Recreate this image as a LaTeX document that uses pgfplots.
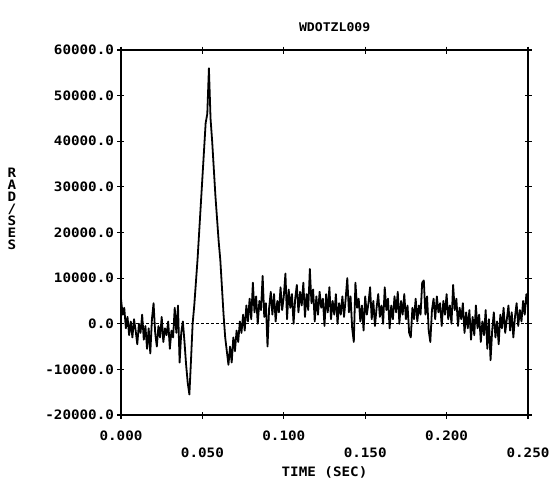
\documentclass[border=0pt]{standalone}
\usepackage{pgfplots}
\pgfplotsset{compat=1.18}
\usepackage{fontspec}
\setmainfont{DejaVu Sans Mono}[FakeStretch=1.1]
\begin{document}
\begin{tikzpicture}[font=\bfseries\fontsize{13}{15}\selectfont]
\begin{axis}[
  at={(0,0)}, anchor=south west,
  scale only axis, width=407bp, height=365bp,
  xmin=0, xmax=0.25, ymin=-20000, ymax=60000,
  scaled y ticks=false, scaled x ticks=false,
  xtick={0,0.1,0.2}, xticklabels={0.000,0.100,0.200},
  xticklabel style={yshift=-9bp},
  extra x ticks={0.05,0.15,0.25}, extra x tick labels={0.050,0.150,0.250},
  extra x tick style={grid=none, xticklabel style={yshift=-17bp}},
  ytick={-20000,-10000,...,60000},
  yticklabels={-20000.0,-10000.0,0.0,10000.0,20000.0,30000.0,40000.0,50000.0,60000.0},
  tick align=center, major tick length=7bp, minor tick num=0,
  tick style={black, line width=1.2bp},
  axis line style={line width=1.2bp},
  title={WDOTZL009},
  title style={font=\bfseries\fontsize{12}{14}\selectfont, at={(axis description cs:0.525,1.045)}, anchor=center},
  xlabel={TIME (SEC)},
  xlabel style={at={(axis description cs:0.5,-0.157)}, anchor=center},
  ylabel={\begin{tabular}{@{}c@{}}R\\[-3bp]A\\[-3bp]D\\[-3bp]/\\[-3bp]S\\[-3bp]E\\[-3bp]S\end{tabular}},
  ylabel style={rotate=-90, at={(axis description cs:-0.268,0.56)}, anchor=center},
]
\addplot[black, line width=0.9bp, dash pattern=on 3bp off 2bp] coordinates {(0,0) (0.25,0)};
\addplot[black, line width=1.8bp, line join=round] table {
x y
0.000 5500
0.001 2000
0.002 3500
0.003 -1000
0.004 1500
0.005 -2500
0.006 500
0.007 -3000
0.008 1000
0.009 -1500
0.010 -4500
0.011 0
0.012 -2000
0.013 2000
0.014 -3500
0.015 -500
0.016 -5500
0.017 -1000
0.018 -6500
0.019 1000
0.020 4500
0.021 -2000
0.022 -5000
0.023 -500
0.024 -3000
0.025 1500
0.026 -4000
0.027 -1000
0.028 -2500
0.029 500
0.030 -5500
0.031 -1500
0.032 -3000
0.033 3500
0.034 -2000
0.035 4000
0.036 -8500
0.037 -2000
0.038 500
0.039 -4000
0.040 -9000
0.041 -13000
0.042 -15500
0.043 -8000
0.044 0
0.045 4000
0.046 9000
0.047 14000
0.048 20000
0.049 26000
0.050 32000
0.051 38000
0.052 44000
0.053 46000
0.054 56000
0.055 45000
0.056 40000
0.057 34000
0.058 28000
0.059 23000
0.060 18000
0.061 14000
0.062 8000
0.063 2000
0.064 -3000
0.065 -6000
0.066 -9000
0.067 -5000
0.068 -8500
0.069 -3000
0.070 -6000
0.071 -1500
0.072 -4000
0.073 500
0.074 -2000
0.075 2000
0.076 -1500
0.077 4000
0.078 500
0.079 5500
0.080 1000
0.081 9000
0.082 2500
0.083 6000
0.084 0
0.085 5000
0.086 3000
0.087 10500
0.088 1500
0.089 4500
0.090 -5000
0.091 3500
0.092 7000
0.093 2000
0.094 6500
0.095 500
0.096 5000
0.097 2500
0.098 8000
0.099 3000
0.100 6000
0.101 11000
0.102 1000
0.103 7500
0.104 3500
0.105 6500
0.106 0
0.107 5500
0.108 8500
0.109 2500
0.110 7000
0.111 4000
0.112 9000
0.113 1500
0.114 6500
0.115 3000
0.116 12000
0.117 4500
0.118 7500
0.119 500
0.120 6000
0.121 2000
0.122 7000
0.123 3500
0.124 5500
0.125 -500
0.126 6500
0.127 2500
0.128 8000
0.129 1000
0.130 5000
0.131 2000
0.132 6500
0.133 0
0.134 4500
0.135 2000
0.136 6000
0.137 1500
0.138 5500
0.139 10000
0.140 2500
0.141 6000
0.142 -1000
0.143 -4000
0.144 9000
0.145 3500
0.146 5500
0.147 500
0.148 4000
0.149 -1500
0.150 6000
0.151 2000
0.152 4500
0.153 8000
0.154 1000
0.155 5000
0.156 -500
0.157 3500
0.158 6500
0.159 1500
0.160 4000
0.161 0
0.162 8000
0.163 3000
0.164 5500
0.165 -1000
0.166 4000
0.167 1000
0.168 6000
0.169 2500
0.170 7000
0.171 0
0.172 5000
0.173 2000
0.174 6500
0.175 1000
0.176 4000
0.177 -2000
0.178 -3000
0.179 3500
0.180 1000
0.181 5500
0.182 500
0.183 4000
0.184 2000
0.185 9000
0.186 9500
0.187 2000
0.188 6000
0.189 -1500
0.190 -4000
0.191 3000
0.192 5500
0.193 1000
0.194 6000
0.195 2500
0.196 4500
0.197 -500
0.198 5000
0.199 2000
0.200 6500
0.201 1000
0.202 4000
0.203 0
0.204 8500
0.205 3000
0.206 5500
0.207 -500
0.208 3500
0.209 1000
0.210 4500
0.211 -2000
0.212 2500
0.213 -1000
0.214 3000
0.215 -3500
0.216 1500
0.217 -2500
0.218 4000
0.219 -1000
0.220 2000
0.221 -4000
0.222 500
0.223 -2500
0.224 3000
0.225 -5500
0.226 1000
0.227 -8000
0.228 -1500
0.229 2500
0.230 -3000
0.231 500
0.232 -4500
0.233 2000
0.234 -1000
0.235 3500
0.236 -2000
0.237 1000
0.238 4000
0.239 -1500
0.240 2500
0.241 -3000
0.242 1500
0.243 4500
0.244 -500
0.245 3000
0.246 500
0.247 5000
0.248 2000
0.249 6500
0.250 4000
};
\end{axis}
\path[use as bounding box] (-121bp,-64bp) rectangle (439bp,415bp);
\end{tikzpicture}
\end{document}
